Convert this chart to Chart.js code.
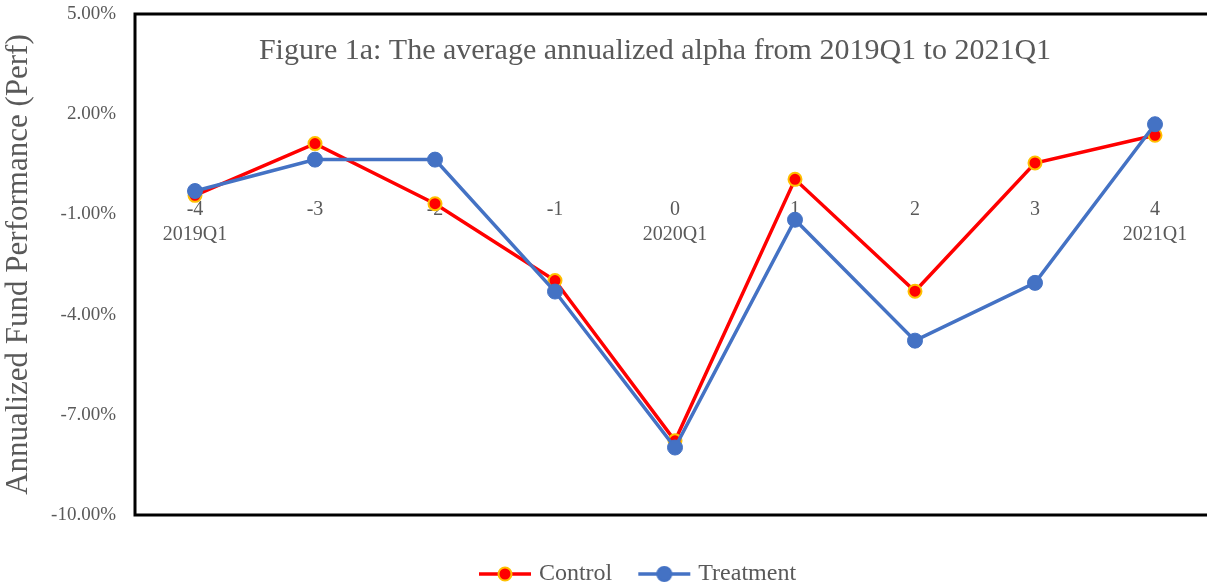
<!DOCTYPE html>
<html lang="en">
  <head>
    <meta charset="UTF-8" />
    <title>Figure 1a</title>
    <script src="https://cdn.jsdelivr.net/npm/chart.js"></script>
    <style>
      body { margin: 0; background: #ffffff; }
      .wrap { width: 1207px; height: 586px; }
    </style>
  </head>
  <body>
    <div class="wrap"><canvas id="alphaChart"></canvas></div>
    <script>
      const quarters = [['-4', '2019Q1'], '-3', '-2', '-1', ['0', '2020Q1'], '1', '2', '3', ['4', '2021Q1']];
      const control = [-0.43, 1.12, -0.68, -2.98, -7.78, 0.05, -3.30, 0.54, 1.37];
      const treatment = [-0.30, 0.64, 0.64, -3.31, -7.98, -1.16, -4.78, -3.05, 1.70];
      const yTicks = [-10, -7, -4, -1, 2, 5];

      const serif = "'Liberation Serif', 'DejaVu Serif', serif";
      const grey = '#595959';

      // little line + dot picture for the legend
      function legendIcon(line, fill, edge, r) {
        const c = document.createElement('canvas');
        c.width = 54; c.height = 18;
        const g = c.getContext('2d');
        g.strokeStyle = line; g.lineWidth = 3.5;
        g.beginPath(); g.moveTo(1, 9); g.lineTo(53, 9); g.stroke();
        g.beginPath(); g.arc(27, 9, r, 0, Math.PI * 2);
        g.fillStyle = fill; g.fill();
        g.lineWidth = 2; g.strokeStyle = edge; g.stroke();
        return c;
      }
      const icons = [legendIcon('#ff0000', '#ff0000', '#ffc000', 6.5), legendIcon('#4472c4', '#4472c4', '#4472c4', 7)];

      const frame = {
        id: 'frame',
        afterLayout(chart) {
          // the plot box runs a little past the right edge of the picture
          const x = chart.scales.x;
          x.right = chart.width + 8;
          x.width = x.right - x.left;
          x.configure();
          chart.chartArea.right = x.right;
          chart.chartArea.width = x.right - chart.chartArea.left;
          // excel centres the legend a bit right of the canvas middle
          chart.legend.left += 36;
          chart.legend.right += 36;
        },
        afterDraw(chart) {
          const { ctx, chartArea: a } = chart;
          ctx.save();
          ctx.strokeStyle = '#000';
          ctx.lineWidth = 3;
          ctx.strokeRect(a.left, a.top, a.right - a.left, a.bottom - a.top);
          ctx.fillStyle = grey;
          ctx.font = '30px ' + serif;
          ctx.textAlign = 'center';
          ctx.textBaseline = 'middle';
          ctx.fillText('Figure 1a: The average annualized alpha from 2019Q1 to 2021Q1', 655, a.top + 37);
          ctx.restore();
        }
      };

      new Chart(document.getElementById('alphaChart'), {
        type: 'line',
        data: {
          labels: quarters,
          datasets: [
            {
              label: 'Control',
              data: control,
              borderColor: '#ff0000',
              backgroundColor: '#ff0000',
              borderWidth: 3.5,
              pointRadius: 6.5,
              pointBorderWidth: 2,
              pointBorderColor: '#ffc000',
              pointBackgroundColor: '#ff0000',
              tension: 0,
              order: 2
            },
            {
              label: 'Treatment',
              data: treatment,
              borderColor: '#4472c4',
              backgroundColor: '#4472c4',
              borderWidth: 3.5,
              pointRadius: 7.5,
              pointBorderWidth: 1,
              pointBorderColor: '#4472c4',
              pointBackgroundColor: '#4472c4',
              tension: 0,
              order: 1
            }
          ]
        },
        options: {
          responsive: true,
          maintainAspectRatio: false,
          animation: false,
          layout: { autoPadding: false, padding: { top: 14, right: 0, bottom: -10, left: 0 } },
          plugins: {
            tooltip: { enabled: false },
            legend: {
              position: 'bottom',
              title: { display: true, text: ' ', font: { size: 10 }, padding: { top: 2, bottom: 3 } },
              labels: {
                usePointStyle: true,
                pointStyleWidth: 44,
                color: grey,
                font: { family: serif, size: 24 },
                padding: 30,
                generateLabels(chart) {
                  return chart.data.datasets.map((ds, i) => ({
                    text: ds.label,
                    fontColor: grey,
                    pointStyle: icons[i],
                    datasetIndex: i,
                    hidden: false,
                    lineWidth: 0
                  }));
                }
              }
            }
          },
          scales: {
            x: {
              position: { y: 0 },
              offset: true,
              afterFit(scale) { scale.paddingLeft = 0; scale.paddingRight = 0; },
              grid: { display: false, drawTicks: false },
              border: { display: false },
              ticks: {
                color: grey,
                font: { family: serif, size: 20, lineHeight: 1.25 },
                padding: 16,
                maxRotation: 0,
                autoSkip: false
              }
            },
            y: {
              min: -10,
              max: 5,
              afterBuildTicks(scale) {
                scale.ticks = yTicks.map(v => ({ value: v }));
              },
              afterFit(scale) {
                scale.width = 135;
                scale.paddingTop = 0;
                scale.paddingBottom = 0;
              },
              grid: { display: false, drawTicks: false },
              border: { display: false },
              title: {
                display: true,
                text: 'Annualized Fund Performance (Perf)',
                color: grey,
                font: { family: serif, size: 31 },
                padding: { top: 0, bottom: 0 }
              },
              ticks: {
                color: grey,
                font: { family: serif, size: 19 },
                padding: 19,
                callback: v => v.toFixed(2) + '%'
              }
            }
          }
        },
        plugins: [frame]
      });
    </script>
  </body>
</html>
